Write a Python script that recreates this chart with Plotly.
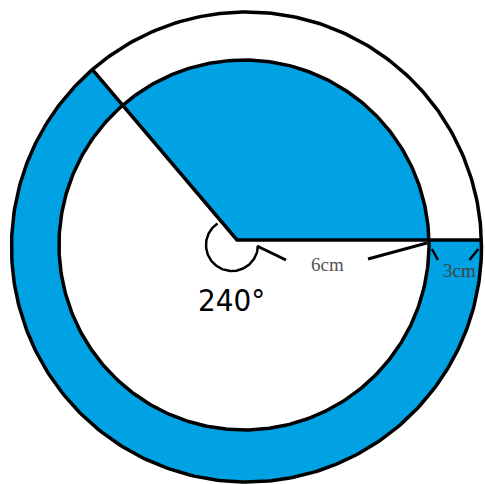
import numpy as np
import plotly.graph_objects as go

# ---- diagram values ----
radius_labels = ["6cm", "3cm"]
angle_label = "240°"
blue = "#00A2E3"

# drawing geometry (screen units, y downward)
outer_center = (246.5, 247.0)
outer_r = 235.0
inner_center = (244.0, 245.0)
inner_r = 185.0
vertex = (237.0, 240.0)
diag_angle_deg = 130.3      # drawn direction of the slanted radius
mark_center = (232.0, 245.0)
mark_r = 26.0               # radius of the angle mark

W, H = 485, 484


def ray_hit(center, r, ang_deg):
    a = np.radians(ang_deg)
    u = np.array([np.cos(a), -np.sin(a)])
    d = np.array(vertex) - np.array(center)
    b = u @ d
    c = d @ d - r * r
    t = -b + np.sqrt(b * b - c)
    return np.array(vertex) + t * u


def theta(center, p):
    return np.degrees(np.arctan2(-(p[1] - center[1]), p[0] - center[0]))


def arc(center, r, t0, t1, n=200):
    t = np.radians(np.linspace(t0, t1, n))
    return center[0] + r * np.cos(t), center[1] - r * np.sin(t)


ph_in = ray_hit(inner_center, inner_r, 0)
ph_out = ray_hit(outer_center, outer_r, 0)
pd_in = ray_hit(inner_center, inner_r, diag_angle_deg)
pd_out = ray_hit(outer_center, outer_r, diag_angle_deg)

th_in = theta(inner_center, ph_in)
th_out = theta(outer_center, ph_out)
td_in = theta(inner_center, pd_in)
td_out = theta(outer_center, pd_out)

fig = go.Figure()

# blue inner sector
ax_, ay_ = arc(inner_center, inner_r, th_in, td_in)
sx = [vertex[0], ph_in[0], *ax_, vertex[0]]
sy = [vertex[1], ph_in[1], *ay_, vertex[1]]
fig.add_trace(go.Scatter(x=sx, y=sy, fill="toself", fillcolor=blue,
                         line=dict(width=0), mode="lines", hoverinfo="skip"))

# blue ring part
ox, oy = arc(outer_center, outer_r, td_out, th_out + 360)
ix, iy = arc(inner_center, inner_r, th_in + 360, td_in)
rx = [*ox, *ix, ox[0]]
ry = [*oy, *iy, oy[0]]
fig.add_trace(go.Scatter(x=rx, y=ry, fill="toself", fillcolor=blue,
                         line=dict(width=0), mode="lines", hoverinfo="skip"))

line_style = dict(color="black", width=3.5)
# circles
for c, r in [(outer_center, outer_r), (inner_center, inner_r)]:
    cx, cy = arc(c, r, 0, 360, 400)
    fig.add_trace(go.Scatter(x=cx, y=cy, mode="lines", line=line_style, hoverinfo="skip"))
# radii
fig.add_trace(go.Scatter(x=[pd_out[0], vertex[0], ph_out[0]],
                         y=[pd_out[1], vertex[1], ph_out[1]],
                         mode="lines", line=line_style, hoverinfo="skip"))
# angle mark (reflex angle)
mx, my = arc(mark_center, mark_r, 124, 358, 120)
fig.add_trace(go.Scatter(x=mx, y=my, mode="lines",
                         line=dict(color="black", width=2.5), hoverinfo="skip"))

# dimension lines for 6cm
thin = dict(color="black", width=3)
fig.add_trace(go.Scatter(x=[vertex[0] + 20, vertex[0] + 49], y=[vertex[1] + 6, vertex[1] + 20],
                         mode="lines", line=thin, hoverinfo="skip"))
fig.add_trace(go.Scatter(x=[vertex[0] + 131, ph_in[0] - 2], y=[vertex[1] + 19, ph_in[1] + 3],
                         mode="lines", line=thin, hoverinfo="skip"))
# small arrows for 3cm
fig.add_trace(go.Scatter(x=[ph_in[0] + 3, ph_in[0] + 9], y=[ph_in[1] + 9, ph_in[1] + 20],
                         mode="lines", line=dict(color="black", width=2.5), hoverinfo="skip"))
fig.add_trace(go.Scatter(x=[ph_out[0] - 3, ph_out[0] - 12], y=[ph_out[1] + 9, ph_out[1] + 20],
                         mode="lines", line=dict(color="black", width=2.5), hoverinfo="skip"))

# labels
fig.add_annotation(x=(vertex[0] + ph_in[0]) / 2 - 5, y=vertex[1] + 24, text=radius_labels[0],
                   showarrow=False, font=dict(family="Liberation Serif", size=19, color="#555555"))
fig.add_annotation(x=(ph_in[0] + ph_out[0]) / 2 + 4, y=vertex[1] + 30, text=radius_labels[1],
                   showarrow=False, font=dict(family="Liberation Serif", size=19, color="#444444"))
fig.add_annotation(x=vertex[0] - 6, y=vertex[1] + 60, text=angle_label,
                   showarrow=False,
                   font=dict(family="DejaVu Sans Condensed", size=31, color="black"))

fig.update_layout(width=W, height=H, margin=dict(l=0, r=0, t=0, b=0),
                  showlegend=False, plot_bgcolor="white", paper_bgcolor="white",
                  xaxis=dict(range=[0, W], visible=False),
                  yaxis=dict(range=[H, 0], visible=False))
fig.write_html("out.html", config={"displayModeBar": False},
               post_script="document.body.style.margin='0';document.body.style.overflow='hidden';")
